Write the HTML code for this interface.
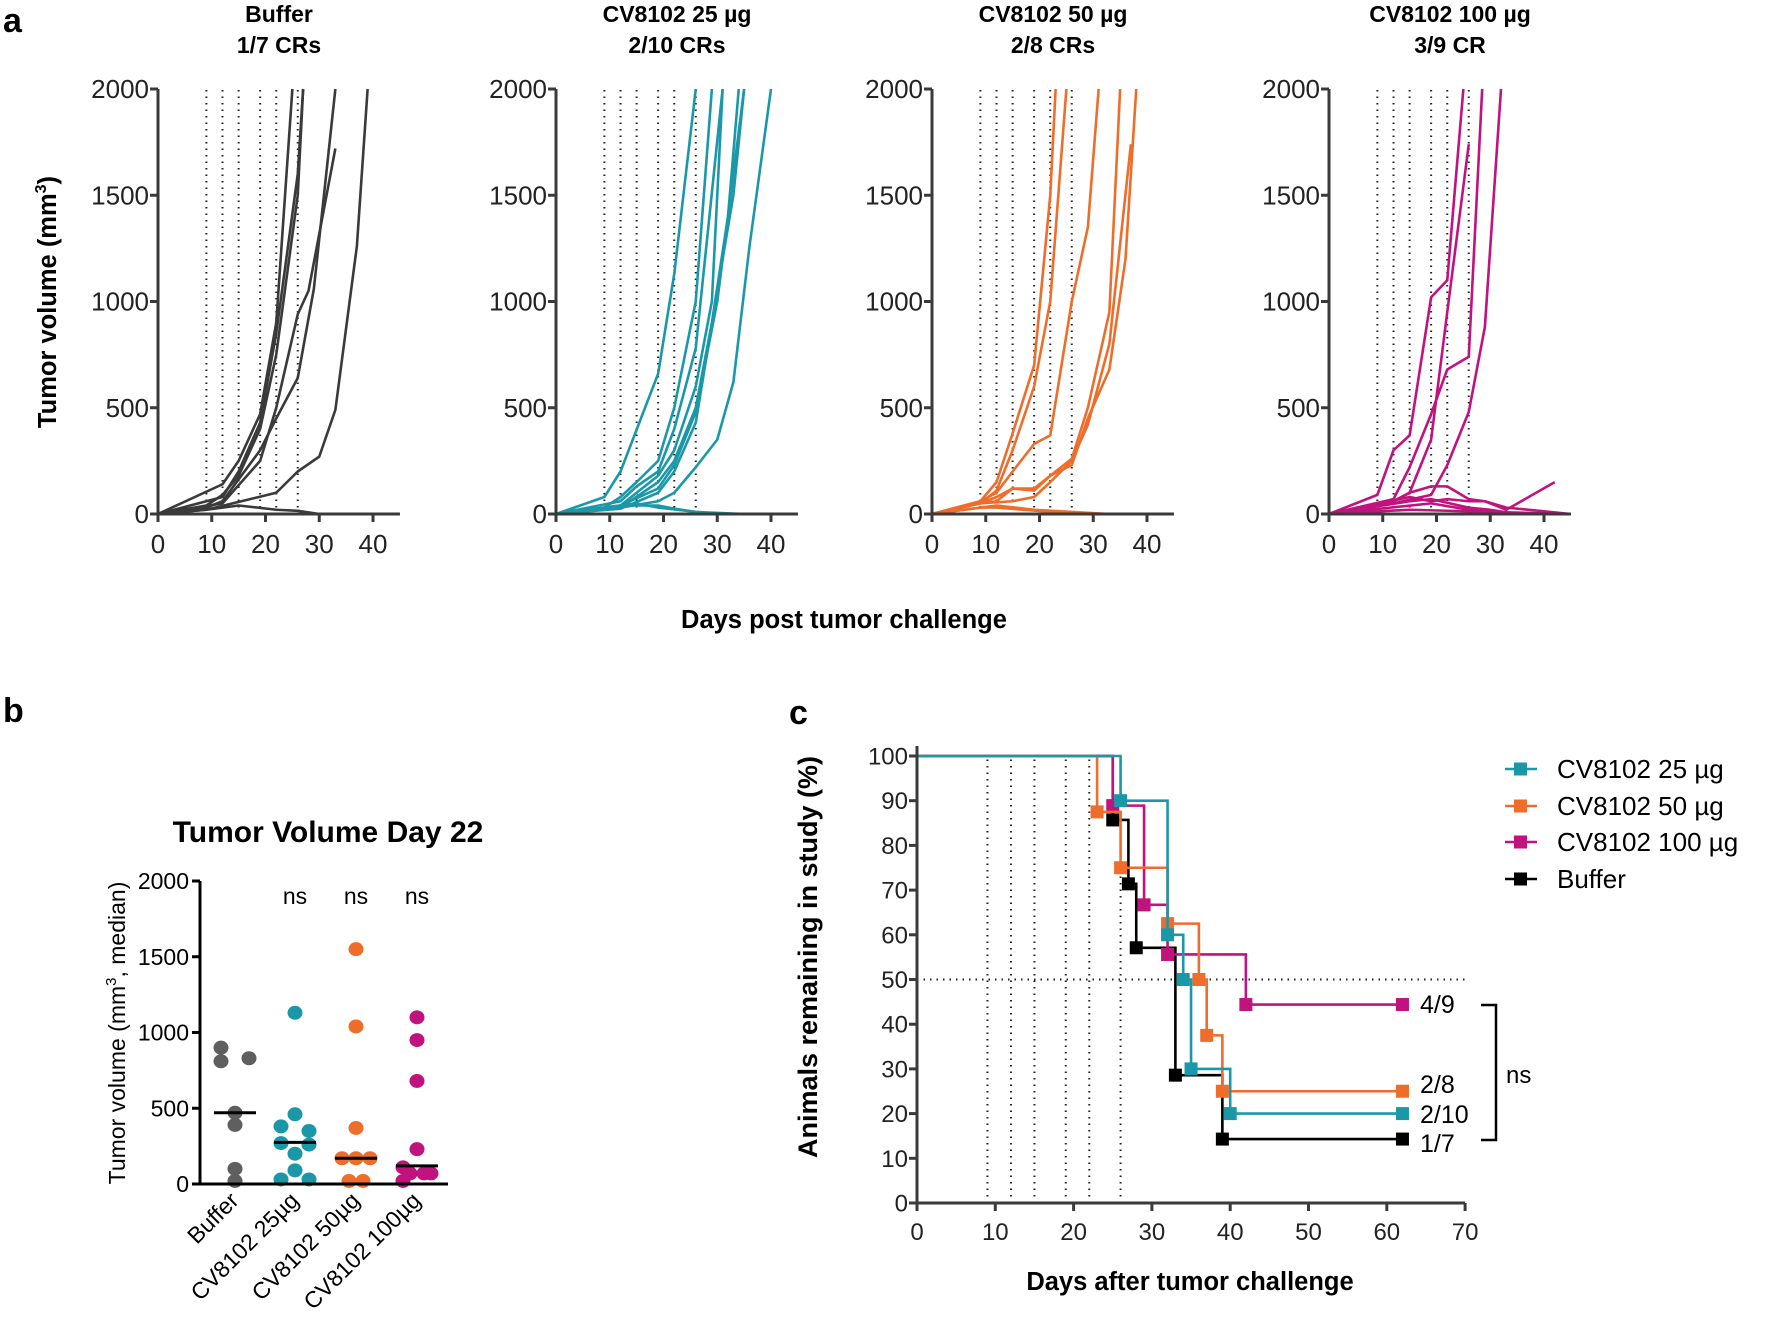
<!DOCTYPE html>
<html><head><meta charset="utf-8"><style>
html,body{margin:0;padding:0;background:#fff}
svg{display:block;font-family:"Liberation Sans",Arial,sans-serif}
</style></head><body>
<svg id="fig" width="1765" height="1324" viewBox="0 0 1765 1324">
<text x="3" y="32" font-size="34" font-weight="bold">a</text>
<text x="3" y="722" font-size="34" font-weight="bold">b</text>
<text x="789" y="724" font-size="34" font-weight="bold">c</text>
<text transform="translate(56,302) rotate(-90)" text-anchor="middle" font-size="25.5" font-weight="bold">Tumor volume (mm<tspan dy="-10" font-size="16">3</tspan><tspan dy="10">)</tspan></text>
<text x="844" y="628" text-anchor="middle" font-size="25.5" font-weight="bold">Days post tumor challenge</text>
<text x="328" y="842" text-anchor="middle" font-size="30" font-weight="bold">Tumor Volume Day 22</text>
<text transform="translate(125,1033) rotate(-90)" text-anchor="middle" font-size="23">Tumor volume (mm<tspan dy="-9" font-size="15">3</tspan><tspan dy="9">, median)</tspan></text>
<text transform="translate(817,957) rotate(-90)" text-anchor="middle" font-size="27" font-weight="bold">Animals remaining in study (%)</text>
<text x="1190" y="1290" text-anchor="middle" font-size="25.5" font-weight="bold">Days after tumor challenge</text>
</svg>
<script>
// ---------- Panel a data ----------
const aTitles1 = ["Buffer","CV8102 25 µg","CV8102 50 µg","CV8102 100 µg"];
const aTitles2 = ["1/7 CRs","2/10 CRs","2/8 CRs","3/9 CR"];
const aColors = ["#3a3a3a","#1a98a8","#ee6d2b","#c0137e"];
const aYTicks = [0,500,1000,1500,2000];
const aXTicks = [0,10,20,30,40];
const doseDays = [9,12,15,19,22,26];
const buffer = [
 [[0,0],[12,140],[15,250],[19,470],[22,900],[25,2000]],
 [[0,0],[12,80],[15,200],[19,430],[22,850],[26,1600],[27,2000]],
 [[0,0],[9,40],[12,90],[15,180],[19,400],[22,750],[26,1500],[27,2000]],
 [[0,0],[9,30],[12,60],[19,300],[22,450],[26,640],[29,1060],[33,2000]],
 [[0,0],[12,50],[19,250],[22,500],[26,940],[28,1050],[33,1720]],
 [[0,0],[9,20],[22,100],[26,200],[30,270],[33,490],[37,1260],[39,2000]],
 [[0,0],[9,20],[15,40],[22,20],[26,15],[30,0],[45,0]]
];
const dose25 = [
 [[0,0],[9,80],[12,200],[19,660],[22,1130],[26,2000]],
 [[0,0],[9,30],[12,80],[15,150],[19,250],[22,500],[26,1000],[29,2000]],
 [[0,0],[12,60],[15,130],[19,200],[22,400],[26,780],[31,2000]],
 [[0,0],[12,40],[15,100],[19,180],[22,300],[26,600],[29,1000],[31,2000]],
 [[0,0],[12,30],[19,150],[22,250],[26,500],[29,900],[32,1400],[34,2000]],
 [[0,0],[12,40],[19,120],[22,230],[26,480],[30,1000],[35,2000]],
 [[0,0],[12,30],[19,60],[22,100],[26,220],[30,350],[33,620],[36,1260],[40,2000]],
 [[0,0],[12,25],[19,100],[22,200],[26,430],[30,1050],[33,1500],[35,2000]],
 [[0,0],[12,40],[19,40],[22,25],[26,10],[30,0],[45,0]],
 [[0,0],[15,50],[19,30],[26,10],[35,0],[45,0]]
];
const dose50 = [
 [[0,0],[9,60],[12,150],[15,380],[19,700],[22,1500],[23,2000]],
 [[0,0],[9,50],[12,110],[15,300],[19,600],[22,1000],[25,2000]],
 [[0,0],[9,60],[12,100],[15,200],[19,330],[22,370],[26,1000],[29,1350],[31,2000]],
 [[0,0],[9,50],[12,80],[15,120],[19,120],[22,180],[26,260],[29,500],[33,950],[35,2000]],
 [[0,0],[9,50],[12,60],[15,120],[19,110],[22,180],[26,230],[29,450],[33,680],[36,1200],[38,2000]],
 [[0,0],[9,50],[15,60],[19,80],[22,150],[26,250],[29,420],[33,800],[37,1740]],
 [[0,0],[12,40],[19,20],[26,10],[33,0],[45,0]],
 [[0,0],[9,30],[12,30],[22,10],[30,0],[45,0]]
];
const dose100 = [
 [[0,0],[9,90],[12,300],[15,370],[19,1020],[22,1100],[25,2000]],
 [[0,0],[12,60],[15,100],[19,350],[22,950],[26,1740]],
 [[0,0],[12,70],[15,220],[19,470],[22,680],[26,740],[28.5,2000]],
 [[0,0],[12,50],[19,90],[22,230],[26,480],[29,880],[32,2000]],
 [[0,0],[12,60],[15,100],[19,130],[22,130],[26,70],[29,60],[33,30],[45,0]],
 [[0,0],[15,80],[19,60],[22,70],[26,60],[29,60],[33,20],[42,150]],
 [[0,0],[15,60],[19,70],[26,30],[30,20],[35,0],[45,0]],
 [[0,0],[19,50],[26,20],[33,0],[45,0]],
 [[0,0],[15,20],[30,10],[45,0]]
];
const aSeries = [buffer,dose25,dose50,dose100];

// ---------- Panel b data ----------
const bCategories = ["Buffer","CV8102 25µg","CV8102 50µg","CV8102 100µg"];
const bBuffer = [900,810,830,470,390,100,20];
const bBufferOff = [-1,-1,1,0,0,0,0];
const b25 = [1130,460,380,350,270,260,200,90,30,30];
const b25Off = [0,0,-1,1,-1,1,0,0,-1,1];
const b50 = [1550,1040,370,170,170,170,20,20];
const b50Off = [0,0,0,-1,0,1,-0.5,0.5];
const b100 = [1100,950,680,230,110,70,70,70,20];
const b100Off = [0,0,0,0,-1,-0.5,0.5,1,-1];
const bMedians = [470,275,170,120];
const bYTicks = [0,500,1000,1500,2000];
const bColors = ["#5f5f5f","#1a98a8","#ee6d2b","#c0137e"];

// ---------- Panel c data ----------
const cNames = ["CV8102 25 µg","CV8102 50 µg","CV8102 100 µg","Buffer"];
const cColors = ["#1a98a8","#ee6d2b","#c0137e","#000000"];
const km25Days = [0,26,32,34,35,40,62];
const km25Pct = [100,90,60,50,30,20,20];
const km50Days = [0,23,26,32,36,37,39,62];
const km50Pct = [100,87.5,75,62.5,50,37.5,25,25];
const km100Days = [0,25,29,32,42,62];
const km100Pct = [100,88.9,66.7,55.6,44.4,44.4];
const kmBufDays = [0,25,27,28,33,39,62];
const kmBufPct = [100,85.7,71.4,57.1,28.6,14.3,14.3];
const cEndLabels = ["2/10","2/8","4/9","1/7"];
const cXTicks = [0,10,20,30,40,50,60,70];
const cYTicks = [0,10,20,30,40,50,60,70,80,90,100];

const NS="http://www.w3.org/2000/svg";
const svg=document.getElementById('fig');
function mk(tag,attrs,parent){const e=document.createElementNS(NS,tag);for(const k in attrs)e.setAttribute(k,attrs[k]);(parent||svg).appendChild(e);return e;}

// ---------- draw panel a ----------
const aAxisX=[158,556,932,1329];
const aY=v=>514-v*0.2125;
aAxisX.forEach((ax,i)=>{
  const X=d=>ax+d*5.375;
  const g=mk('g',{});
  
  
  const t1=mk('text',{x:ax+121,y:22,'text-anchor':'middle','font-size':23,'font-weight':'bold'},g);t1.textContent=aTitles1[i];
  
  
  const t2=mk('text',{x:ax+121,y:53,'text-anchor':'middle','font-size':23,'font-weight':'bold'},g);t2.textContent=aTitles2[i];
  
  
  doseDays.forEach(d=>{const l=mk('line',{x1:X(d),x2:X(d),y1:aY(0),y2:aY(2000),stroke:'#222','stroke-width':2,'stroke-dasharray':'1.5 5'},g);
    
    });
  aSeries[i].forEach(s=>{const p=mk('polyline',{points:s.map(q=>X(q[0])+','+aY(q[1])).join(' '),fill:'none',stroke:aColors[i],'stroke-width':2.6,'stroke-linejoin':'round'},g);
    
    });
  mk('line',{x1:ax,x2:ax,y1:aY(2000),y2:aY(0)+1.5,stroke:'#3a3a3a','stroke-width':3},g);
  mk('line',{x1:ax,x2:X(45),y1:aY(0),y2:aY(0),stroke:'#3a3a3a','stroke-width':3},g);
  aYTicks.forEach(v=>{mk('line',{x1:ax-8,x2:ax,y1:aY(v),y2:aY(v),stroke:'#3a3a3a','stroke-width':3},g);
    const t=mk('text',{x:ax-9,y:aY(v)+9,'text-anchor':'end','font-size':26,fill:'#222'},g);t.textContent=v;
    
    });
  aXTicks.forEach(d=>{mk('line',{x1:X(d),x2:X(d),y1:aY(0),y2:aY(0)+8,stroke:'#3a3a3a','stroke-width':3},g);
    const t=mk('text',{x:X(d),y:553,'text-anchor':'middle','font-size':26,fill:'#222'},g);t.textContent=d;
    
    });
});

// ---------- draw panel b ----------
const bAx=200, bCx=[235,295,356,417];
const bY=v=>1184-v*0.1515;
const bg=mk('g',{});


[[bBuffer,bBufferOff],[b25,b25Off],[b50,b50Off],[b100,b100Off]].forEach((pair,i)=>{
  pair[0].forEach((v,j)=>{const c=mk('ellipse',{cx:bCx[i]+pair[1][j]*14,cy:bY(v),rx:7.5,ry:7,fill:bColors[i]},bg);
    
    });
  const m=mk('line',{x1:bCx[i]-21,x2:bCx[i]+21,y1:bY(bMedians[i]),y2:bY(bMedians[i]),stroke:'#000','stroke-width':3},bg);
  
  
  if(i>0){const t=mk('text',{x:bCx[i],y:904,'text-anchor':'middle','font-size':23},bg);t.textContent='ns';
    
    }
  const t=mk('text',{transform:`translate(${bCx[i]+5},${1202}) rotate(-45)`,'text-anchor':'end','font-size':23},bg);t.textContent=bCategories[i];
  
  
});
mk('line',{x1:bAx,x2:bAx,y1:bY(2000),y2:bY(0)+1.5,stroke:'#000','stroke-width':3},bg);
mk('line',{x1:bAx,x2:448,y1:bY(0),y2:bY(0),stroke:'#000','stroke-width':3},bg);
bYTicks.forEach(v=>{mk('line',{x1:bAx-8,x2:bAx,y1:bY(v),y2:bY(v),stroke:'#000','stroke-width':3},bg);
  const t=mk('text',{x:bAx-11,y:bY(v)+8,'text-anchor':'end','font-size':23},bg);t.textContent=v;
  
  });

// ---------- draw panel c ----------
const cX=d=>917+d*7.83, cY=p=>1203-p*4.47;
const cg=mk('g',{});


doseDays.forEach(d=>{mk('line',{x1:cX(d),x2:cX(d),y1:cY(0),y2:cY(100),stroke:'#222','stroke-width':2,'stroke-dasharray':'1.5 5'},cg);});
mk('line',{x1:cX(0),x2:cX(70),y1:cY(50),y2:cY(50),stroke:'#222','stroke-width':2,'stroke-dasharray':'1.5 5'},cg);
const kmSets=[[km25Days,km25Pct],[km50Days,km50Pct],[km100Days,km100Pct],[kmBufDays,kmBufPct]];
const drawOrder=[3,2,1,0];
drawOrder.forEach(i=>{
  const D=kmSets[i][0],P=kmSets[i][1];let pts=[];
  for(let k=0;k<D.length;k++){ if(k>0) pts.push(cX(D[k])+','+cY(P[k-1])); pts.push(cX(D[k])+','+cY(P[k])); }
  const pl=mk('polyline',{points:pts.join(' '),fill:'none',stroke:cColors[i],'stroke-width':2.6},cg);
  
  
  for(let k=1;k<D.length;k++){const r=mk('rect',{x:cX(D[k])-6.5,y:cY(P[k])-6.5,width:13,height:13,fill:cColors[i]},cg);
    
    }
});
const endY=[1114,1084,1004,1143];
cEndLabels.forEach((s,i)=>{const t=mk('text',{x:1420,y:endY[i]+9,'font-size':25},cg);t.textContent=s;
  
  });
mk('polyline',{points:'1481,1005 1496,1005 1496,1140 1481,1140',fill:'none',stroke:'#000','stroke-width':2.5},cg);
const ns=mk('text',{x:1506,y:1083,'font-size':24},cg);ns.textContent='ns';


mk('line',{x1:cX(0),x2:cX(0),y1:cY(100)-10,y2:cY(0)+1.5,stroke:'#3a3a3a','stroke-width':3},cg);
mk('line',{x1:cX(0),x2:cX(70),y1:cY(0),y2:cY(0),stroke:'#3a3a3a','stroke-width':3},cg);
cYTicks.forEach(v=>{mk('line',{x1:cX(0)-8,x2:cX(0),y1:cY(v),y2:cY(v),stroke:'#3a3a3a','stroke-width':3},cg);
  const t=mk('text',{x:cX(0)-9,y:cY(v)+8.5,'text-anchor':'end','font-size':24,fill:'#222'},cg);t.textContent=v;
  
  });
cXTicks.forEach(d=>{mk('line',{x1:cX(d),x2:cX(d),y1:cY(0),y2:cY(0)+8,stroke:'#3a3a3a','stroke-width':3},cg);
  const t=mk('text',{x:cX(d),y:1240,'text-anchor':'middle','font-size':24,fill:'#222'},cg);t.textContent=d;
  
  });
const legY=[769,806,842,879];
cNames.forEach((n,i)=>{
  const lg=mk('g',{},cg);
  
  
  mk('line',{x1:1505,x2:1537,y1:legY[i],y2:legY[i],stroke:cColors[i],'stroke-width':2.6},lg);
  mk('rect',{x:1514,y:legY[i]-6.5,width:13,height:13,fill:cColors[i]},lg);
  const t=mk('text',{x:1557,y:legY[i]+9,'font-size':26},lg);t.textContent=n;
});
</script>
</body></html>
